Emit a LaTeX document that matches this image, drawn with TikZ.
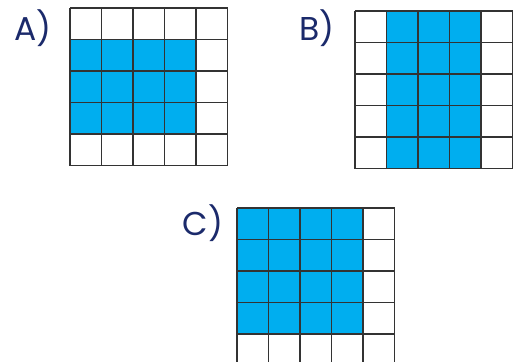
\documentclass[tikz,border=0pt]{standalone}
\usepackage{fontspec}
\setsansfont{Poppins}
\definecolor{cellblue}{HTML}{00AEEF}
\definecolor{labelnavy}{HTML}{1B2A6B}
\tikzset{
  gridline/.style={line width=1.2pt, black!80},
  lab/.style={font=\sffamily\fontsize{33}{33}\selectfont, text=labelnavy, inner sep=0pt},
}
\newcommand{\cellgrid}{%
  \foreach \i in {0,...,5} {
    \draw[gridline] (\i*31.5,0) -- (\i*31.5,157.5);
    \draw[gridline] (0,\i*31.5) -- (157.5,\i*31.5);
  }}

\begin{document}
\begin{tikzpicture}[x=1pt,y=-1pt]
  \useasboundingbox (0,0) rectangle (515,362);
  % A
  \node[lab] (labA) at (33,28) {A)};
  \begin{scope}[shift={(70,8)}]
    \fill[cellblue] (0,31.5) rectangle (126,126);
    \cellgrid
  \end{scope}
  % B
  \node[lab] (labB) at (317,28) {B)};
  \begin{scope}[shift={(355,11)}]
    \fill[cellblue] (31.5,0) rectangle (126,157.5);
    \cellgrid
  \end{scope}
  % C
  \node[lab] (labC) at (203,223) {C)};
  \begin{scope}[shift={(237,208)}]
    \fill[cellblue] (0,0) rectangle (126,126);
    \cellgrid
  \end{scope}
\end{tikzpicture}
\end{document}
